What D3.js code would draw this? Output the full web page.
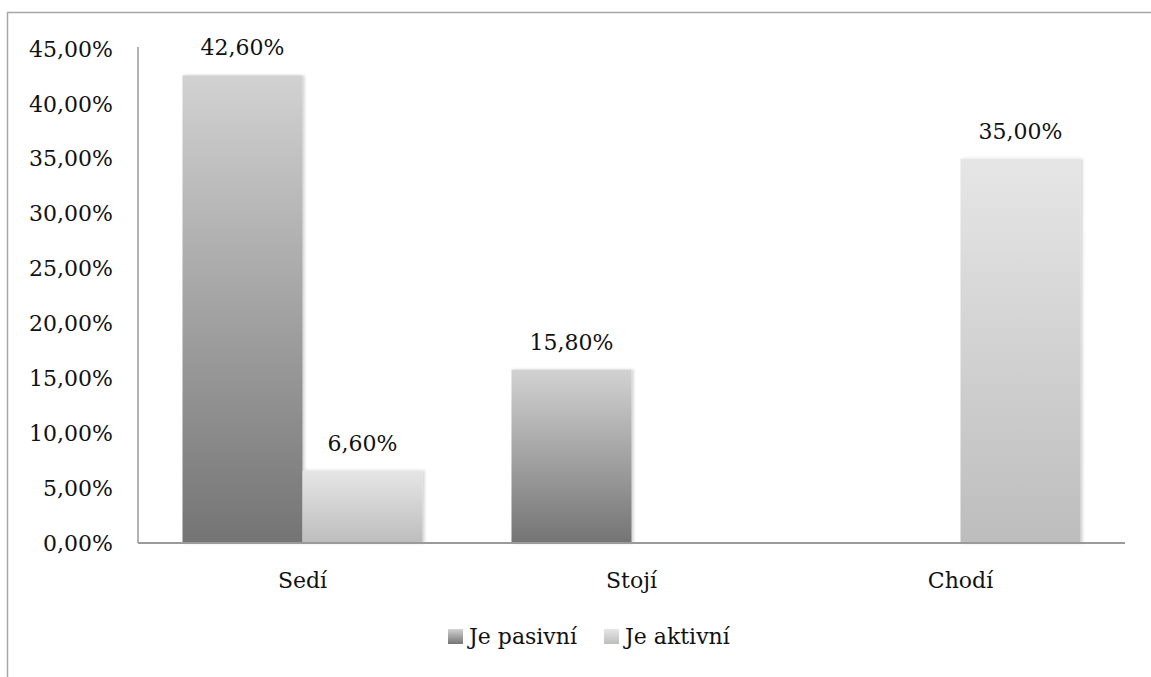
<!DOCTYPE html>
<html>
<head>
<meta charset="utf-8">
<script src="https://cdn.jsdelivr.net/npm/d3@7"></script>
<style>
  body { margin: 0; background: #fff; }
  text { font-family: "DejaVu Serif", serif; fill: #111; }
</style>
</head>
<body>
<div class="chart"></div>
<script>
const width = 1151;
const height = 677;

const categories = ['Sedí', 'Stojí', 'Chodí'];
const seriesNames = ['Je pasivní', 'Je aktivní'];
// null = no bar for that category
const pasivni = [42.6, 15.8, null];
const aktivni = [6.6, null, 35.0];
const yTicks = [0, 5, 10, 15, 20, 25, 30, 35, 40, 45];

const plot = { left: 138, right: 1125, top: 49, bottom: 543 };
const fontSize = '22px';

const svg = d3.select('.chart').append('svg')
    .attr('width', width)
    .attr('height', height);

// gradients, one per series (bar-relative)
const defs = svg.append('defs');
const grads = [
    { id: 'gPas', top: '#d2d2d2', bottom: '#747474' },
    { id: 'gAkt', top: '#e6e6e6', bottom: '#bdbdbd' }
];
grads.forEach(g => {
    const lg = defs.append('linearGradient').attr('id', g.id)
        .attr('x1', 0).attr('y1', 0).attr('x2', 0).attr('y2', 1);
    lg.append('stop').attr('offset', '0%').attr('stop-color', g.top);
    lg.append('stop').attr('offset', '100%').attr('stop-color', g.bottom);
});
const shadow = defs.append('filter').attr('id', 'shadow')
    .attr('x', '-10%').attr('y', '-10%').attr('width', '130%').attr('height', '120%');
shadow.append('feDropShadow').attr('dx', 2).attr('dy', 0).attr('stdDeviation', 1.5)
    .attr('flood-color', '#000').attr('flood-opacity', 0.18);

// outer frame (runs off right/bottom edge)
svg.append('rect')
    .attr('x', 7.5).attr('y', 12.5)
    .attr('width', 1160).attr('height', 700)
    .attr('fill', 'none').attr('stroke', '#a6a6a6').attr('stroke-width', 1.5);

const yScale = d3.scaleLinear().domain([0, 45]).range([plot.bottom, plot.top]);
const xScale = d3.scaleBand().domain(categories).range([plot.left, plot.right])
    .paddingInner(0).paddingOuter(0);
const inner = d3.scaleBand().domain(seriesNames)
    .range([44.5, xScale.bandwidth() - 44.5]);

// y axis labels
svg.append('g').selectAll('text').data(yTicks).enter().append('text')
    .attr('x', 113).attr('y', d => yScale(d))
    .attr('dy', '0.35em')
    .attr('text-anchor', 'end')
    .style('font-size', fontSize)
    .text(d => d.toFixed(2).replace('.', ',') + '%');

// bars
const series = [pasivni, aktivni];
const gradIds = ['gPas', 'gAkt'];
series.forEach((vals, si) => {
    const data = vals.map((v, i) => ({ cat: categories[i], v: v })).filter(d => d.v !== null);
    const g = svg.append('g');
    g.selectAll('rect').data(data).enter().append('rect')
        .attr('x', d => xScale(d.cat) + inner(seriesNames[si]))
        .attr('y', d => yScale(d.v))
        .attr('width', inner.bandwidth())
        .attr('height', d => yScale(0) - yScale(d.v))
        .attr('fill', `url(#${gradIds[si]})`)
        .attr('filter', 'url(#shadow)');
    g.selectAll('text').data(data).enter().append('text')
        .attr('x', d => xScale(d.cat) + inner(seriesNames[si]) + inner.bandwidth() / 2)
        .attr('y', d => yScale(d.v) - 20)
        .attr('text-anchor', 'middle')
        .style('font-size', fontSize)
        .text(d => d.v.toFixed(2).replace('.', ',') + '%');
});

// axis lines
svg.append('line')
    .attr('x1', plot.left).attr('x2', plot.left)
    .attr('y1', plot.top - 2).attr('y2', plot.bottom)
    .attr('stroke', '#9a9a9a').attr('stroke-width', 1.5);
svg.append('line')
    .attr('x1', plot.left).attr('x2', plot.right)
    .attr('y1', plot.bottom).attr('y2', plot.bottom)
    .attr('stroke', '#9a9a9a').attr('stroke-width', 2);

// category labels
svg.append('g').selectAll('text').data(categories).enter().append('text')
    .attr('x', d => xScale(d) + xScale.bandwidth() / 2)
    .attr('y', 580)
    .attr('dy', '0.35em')
    .attr('text-anchor', 'middle')
    .style('font-size', fontSize)
    .text(d => d);

// legend
const legendX = [448, 604];
const legend = svg.append('g');
seriesNames.forEach((name, i) => {
    legend.append('rect')
        .attr('x', legendX[i]).attr('y', 629)
        .attr('width', 15).attr('height', 15)
        .attr('fill', `url(#${gradIds[i]})`);
    legend.append('text')
        .attr('x', legendX[i] + 21).attr('y', 636)
        .attr('dy', '0.35em')
        .style('font-size', fontSize)
        .text(name);
});
</script>
</body>
</html>
